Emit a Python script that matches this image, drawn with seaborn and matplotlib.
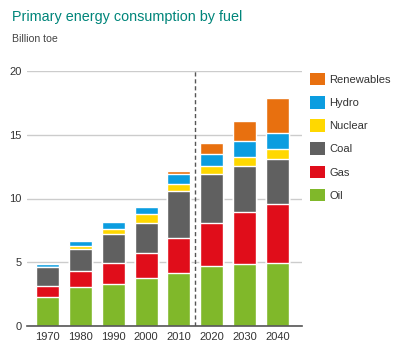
import numpy as np
import matplotlib
matplotlib.use("Agg")
import matplotlib.pyplot as plt
import seaborn as sns
from matplotlib.patches import Patch

# Data (billion toe)
years = ["1970", "1980", "1990", "2000", "2010", "2020", "2030", "2040"]
oil = [2.30, 3.03, 3.27, 3.74, 4.18, 4.73, 4.84, 4.92]
gas = [0.86, 1.28, 1.70, 2.01, 2.70, 3.37, 4.08, 4.62]
coal = [1.47, 1.76, 2.22, 2.35, 3.68, 3.80, 3.63, 3.58]
nuclear = [0.02, 0.18, 0.42, 0.66, 0.60, 0.65, 0.73, 0.79]
hydro = [0.24, 0.42, 0.52, 0.60, 0.76, 0.97, 1.20, 1.23]
renewables = [0.00, 0.02, 0.03, 0.05, 0.26, 0.83, 1.62, 2.77]

fuels = ["Oil", "Gas", "Coal", "Nuclear", "Hydro", "Renewables"]
series = [oil, gas, coal, nuclear, hydro, renewables]
colors = ["#80b82a", "#e00d1a", "#606060", "#ffd800", "#0b9de0", "#e8700f"]

sns.set_style("white")
plt.rcParams["font.family"] = ["Liberation Sans", "DejaVu Sans"]

fig = plt.figure(figsize=(4.0, 3.52), dpi=100)
ax = fig.add_axes([27 / 400, 26 / 352, 275 / 400, 255 / 352])

# stacked bars: draw cumulative totals from the top layer down
cum = np.cumsum(np.array(series), axis=0)
for i in range(len(fuels) - 1, -1, -1):
    sns.barplot(x=years, y=cum[i], color=colors[i], width=0.7,
                saturation=1, ax=ax, zorder=2)

ax.set_ylim(0, 20)
ax.set_xlim(-0.62, 7.74)
ax.set_yticks([0, 5, 10, 15, 20])
ax.yaxis.grid(True, color="#cccccc", lw=1, zorder=0)
ax.set_axisbelow(True)
for s in ["top", "right", "left"]:
    ax.spines[s].set_visible(False)
ax.spines["bottom"].set_color("#555555")
ax.spines["bottom"].set_linewidth(1.2)
ax.spines["bottom"].set_zorder(3)
ax.tick_params(length=0, labelsize=8, colors="#333333", pad=4)
ax.set_xlabel("")
ax.set_ylabel("")

# history / projection divider
ax.axvline(4.5, color="#555555", lw=1, ls=(0, (3, 2)), zorder=3)

fig.text(12 / 400, 1 - 17 / 352, "Primary energy consumption by fuel",
         color="#00857a", fontsize=10.4, va="center", ha="left")
fig.text(12 / 400, 1 - 39 / 352, "Billion toe", color="#444444",
         fontsize=7.6, va="center", ha="left")

handles = [Patch(facecolor=c, edgecolor="none") for c in colors[::-1]]
fig.legend(handles, fuels[::-1], loc="upper left",
           bbox_to_anchor=(310 / 400, 1 - 73 / 352), frameon=False,
           fontsize=8, handlelength=1.35, handleheight=1.35,
           handletextpad=0.36, labelspacing=0.96, borderpad=0,
           borderaxespad=0, labelcolor="#333333")

fig.savefig("out.png", dpi=100)
